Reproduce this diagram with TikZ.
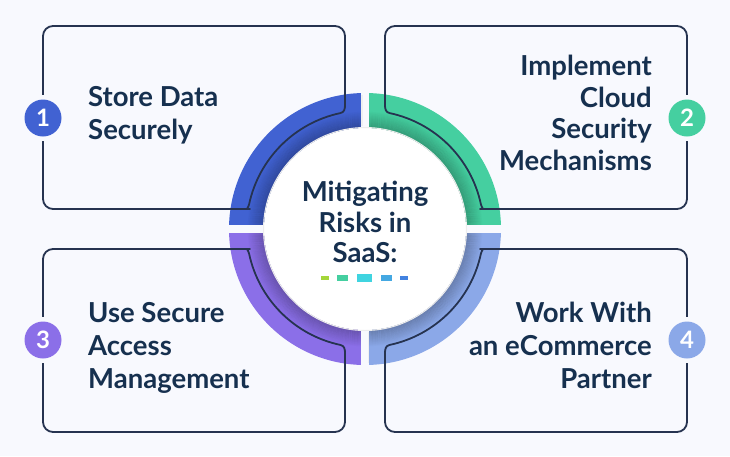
\documentclass[tikz,border=0pt]{standalone}
\usepackage{fontspec}
\setmainfont{Lato}
\definecolor{bg}{HTML}{F8F9FE}
\definecolor{cblue}{HTML}{4162D2}
\definecolor{cgreen}{HTML}{45CFA0}
\definecolor{cpurple}{HTML}{8B6FE8}
\definecolor{clight}{HTML}{8BA8E8}
\definecolor{txt}{HTML}{16304F}
\definecolor{linec}{HTML}{263350}
\definecolor{dlime}{HTML}{A4D63A}
\definecolor{dcyan}{HTML}{40D4E0}
\definecolor{dsky}{HTML}{44A8E2}
\definecolor{dblue}{HTML}{4282E0}
\begin{document}
\begin{tikzpicture}[x=1pt,y=1pt,yscale=-1,
  boxline/.style={draw=linec, line width=1.8pt, line cap=round, line join=round},
  numc/.style={circle, minimum size=37pt, inner sep=0pt, text=white, font=\fontsize{24}{24}\selectfont\bfseries},
  lbl/.style={text=txt, font=\fontsize{27.5}{30}\selectfont\bfseries, inner sep=0pt}]
\useasboundingbox (0,0) rectangle (730,456);
\fill[bg] (0,0) rectangle (730,456);
% ring
\begin{scope}[shift={(365,229)}]
  \fill[cblue] (0,0) -- (180:136) arc[start angle=180,end angle=270,radius=136] -- cycle;
  \fill[cgreen] (0,0) -- (270:136) arc[start angle=270,end angle=360,radius=136] -- cycle;
  \fill[clight] (0,0) -- (0:136) arc[start angle=0,end angle=90,radius=136] -- cycle;
  \fill[cpurple] (0,0) -- (90:136) arc[start angle=90,end angle=180,radius=136] -- cycle;
  \begin{scope}
    \clip (0,0) circle[radius=136];
    \foreach \r [evaluate=\r as \op using 0.013*(118-\r)] in {101,...,117}
      \draw[black, draw opacity=\op, line width=1.05pt] (0,0) circle[radius=\r];
  \end{scope}
  \fill[bg] (-4,-140) rectangle (4,140);
  \fill[bg] (-140,-4) rectangle (140,4);
  \fill[black!6] (-4,-103) rectangle (-2.5,-134);
  \fill[black!6] (4,103) rectangle (2.5,134);
  \fill[white] (0,0) circle[radius=101];
  \draw[black!7, line width=1pt] (0,0) circle[radius=101.5];
  % box outlines
  \foreach \sx/\sy in {1/1,-1/1,1/-1,-1/-1}{
    \begin{scope}[xscale=\sx, yscale=\sy]
      \draw[boxline] (-20,-124) [rounded corners=10] -- (-20,-203) -- (-322,-203) -- (-322,-20) -- (-125,-20) [sharp corners]
        .. controls (-120,-20) and (-116.7,-20.7) .. (192:118.5)
        arc[start angle=192, end angle=258, radius=118.5]
        .. controls (-20.7,-116.7) and (-20,-120) .. (-20,-124);
    \end{scope}
  }
\end{scope}
% number badges
\fill[bg] (43,118) circle[radius=23];
\fill[bg] (687,118) circle[radius=23];
\fill[bg] (43,340) circle[radius=23];
\fill[bg] (687,340) circle[radius=23];
\node[numc, fill=cblue] (n1) at (43,118) {1};
\node[numc, fill=cgreen] (n2) at (687,118) {2};
\node[numc, fill=cpurple] (n3) at (43,340) {3};
\node[numc, fill=clight] (n4) at (687,340) {4};
% texts box 1
\node[lbl, anchor=base west] (t1a) at (88,106) {Store Data};
\node[lbl, anchor=base west] (t1b) at (88,139) {Securely};
% box 2
\node[lbl, anchor=base east] (t2a) at (652,75) {Implement};
\node[lbl, anchor=base east] (t2b) at (652,107) {Cloud};
\node[lbl, anchor=base east] (t2c) at (652,138) {Security};
\node[lbl, anchor=base east] (t2d) at (652,170) {Mechanisms};
% box 3
\node[lbl, anchor=base west] (t3a) at (88,322) {Use Secure};
\node[lbl, anchor=base west] (t3b) at (88,355) {Access};
\node[lbl, anchor=base west] (t3c) at (88,388) {Management};
% box 4
\node[lbl, anchor=base east] (t4a) at (652,322) {Work With};
\node[lbl, anchor=base east] (t4b) at (652,355) {an eCommerce};
\node[lbl, anchor=base east] (t4c) at (652,388) {Partner};
% center
\node[lbl, anchor=base] (c1) at (365,201) {Mitigating};
\node[lbl, anchor=base] (c2) at (365,232) {Risks in};
\node[lbl, anchor=base] (c3) at (365,262) {SaaS:};
% dashes
\fill[dlime] (321,276) rectangle (329,280);
\fill[cgreen] (337,275) rectangle (348,281);
\fill[dcyan] (357,274) rectangle (372,282);
\fill[dsky] (381,275) rectangle (392,281);
\fill[dblue] (400,276) rectangle (408,280);
\end{tikzpicture}
\end{document}
